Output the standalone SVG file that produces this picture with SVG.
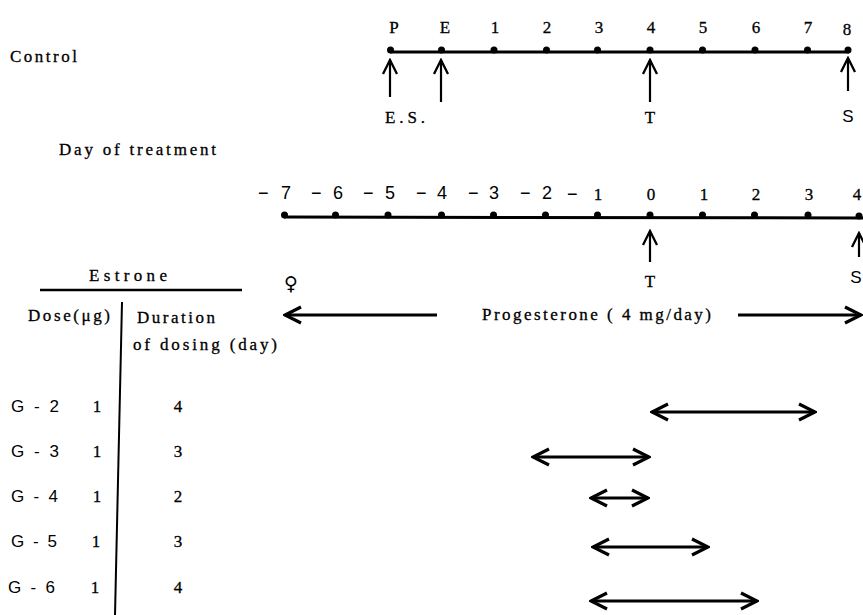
<svg xmlns="http://www.w3.org/2000/svg" width="863" height="615" viewBox="0 0 863 615">
<defs>
<style>
.t{font-family:"Liberation Serif","DejaVu Serif",serif;font-size:17px;fill:#000;stroke:#000;stroke-width:0.3}
.s{font-family:"Liberation Sans","DejaVu Sans",sans-serif;font-size:17px;fill:#000}
.n{font-family:"Liberation Sans","DejaVu Sans",sans-serif;font-size:18px;fill:#000}
.m{text-anchor:middle}
.axis{stroke:#000;stroke-width:3;fill:none}
.dot{fill:#000}
.up{stroke:#000;stroke-width:2.2;fill:none;marker-end:url(#hs)}
.dbl{stroke:#000;stroke-width:2.8;fill:none;marker-start:url(#hb);marker-end:url(#hb)}
.rule{stroke:#000;stroke-width:2.5;fill:none}
</style>
<marker id="hs" markerUnits="userSpaceOnUse" viewBox="-16 -10 18 20" markerWidth="18" markerHeight="20" refX="0" refY="0" orient="auto">
<path d="M-14,-7 L0,0 L-14,7" fill="none" stroke="#000" stroke-width="2.3"/>
</marker>
<marker id="hb" markerUnits="userSpaceOnUse" viewBox="-20 -10 22 20" markerWidth="22" markerHeight="20" refX="0" refY="0" orient="auto-start-reverse">
<path d="M-16,-8 L0,0 L-16,8" fill="none" stroke="#000" stroke-width="3.2" stroke-linejoin="miter"/>
</marker>
</defs>
<rect width="863" height="615" fill="#fff"/>

<g id="control">
<text class="t" x="10" y="62" textLength="67" lengthAdjust="spacing">Control</text>
<line class="axis" x1="390" y1="52" x2="849" y2="52"/>
<g class="dot">
<circle cx="390.5" cy="50" r="3.5"/><circle cx="441.5" cy="50" r="3.5"/><circle cx="494" cy="50" r="3.5"/><circle cx="546.5" cy="50" r="3.5"/><circle cx="597.5" cy="50" r="3.5"/><circle cx="650" cy="50" r="3.5"/><circle cx="702.5" cy="50" r="3.5"/><circle cx="755" cy="50" r="3.5"/><circle cx="807.5" cy="50" r="3.5"/><circle cx="848" cy="50" r="3.5"/>
</g>
<g class="t m">
<text x="394" y="33">P</text><text x="445" y="33">E</text><text x="495" y="33">1</text><text x="547" y="33">2</text><text x="599" y="33">3</text><text x="651" y="33">4</text><text x="703" y="33">5</text><text x="756" y="33">6</text><text x="808" y="33">7</text><text x="847" y="35">8</text>
</g>
<text class="t" x="385" y="123" textLength="40" lengthAdjust="spacing">E.S.</text>
<text class="t m" x="650" y="123">T</text>
<text class="s m" x="848" y="122">S</text>
</g>

<g id="treatment">
<text class="t" x="59" y="155" textLength="157" lengthAdjust="spacing">Day of treatment</text>
<line class="axis" x1="284" y1="217" x2="863" y2="218"/>
<g class="dot">
<circle cx="284.5" cy="215" r="3.5"/><circle cx="335.5" cy="215" r="3.5"/><circle cx="388" cy="215" r="3.5"/><circle cx="441.5" cy="215" r="3.5"/><circle cx="493.5" cy="215" r="3.5"/><circle cx="545.5" cy="215" r="3.5"/><circle cx="597.5" cy="215" r="3.5"/><circle cx="650" cy="215" r="3.5"/><circle cx="702.5" cy="215" r="3.5"/><circle cx="754.5" cy="215" r="3.5"/><circle cx="808" cy="215" r="3.5"/><circle cx="859" cy="216" r="3.5"/>
</g>
<g class="n">
<text x="258" y="199">−</text><text x="281" y="199">7</text>
<text x="311" y="199">−</text><text x="333" y="199">6</text>
<text x="363" y="199">−</text><text x="385" y="199">5</text>
<text x="416" y="199">−</text><text x="437" y="199">4</text>
<text x="468" y="199">−</text><text x="489" y="199">3</text>
<text x="520" y="199">−</text><text x="542" y="199">2</text>
<text x="567" y="200">−</text>
</g>
<g class="t m">
<text x="598" y="200">1</text><text x="651" y="200">0</text><text x="704" y="200">1</text><text x="756" y="200">2</text><text x="809" y="200">3</text><text x="857" y="200">4</text>
</g>
<text x="291" y="290" style="font-family:'DejaVu Sans',sans-serif;font-size:19px;text-anchor:middle">♀</text>
<text class="t m" x="650" y="287">T</text>
<text class="s m" x="856" y="283">S</text>
</g>

<g id="progesterone">
<text class="t" x="482" y="320" textLength="229" lengthAdjust="spacing">Progesterone ( 4 mg/day)</text>
</g>

<g id="table">
<text class="t" x="89" y="281" textLength="78" lengthAdjust="spacing">Estrone</text>
<line class="rule" x1="40" y1="290" x2="242" y2="290"/>
<text class="t" x="28" y="321" textLength="82" lengthAdjust="spacing">Dose(μg)</text>
<text class="t" x="137" y="323" textLength="78" lengthAdjust="spacing">Duration</text>
<text class="t" x="133" y="350" textLength="144" lengthAdjust="spacing">of dosing (day)</text>
<line x1="122" y1="302" x2="115" y2="615" stroke="#000" stroke-width="2"/>
</g>

<g id="g2"><text class="s" x="11" y="412" textLength="48" lengthAdjust="spacing">G - 2</text><text class="t m" x="97" y="412">1</text><text class="t m" x="178" y="412">4</text></g>
<g id="g3"><text class="s" x="11" y="457" textLength="48" lengthAdjust="spacing">G - 3</text><text class="t m" x="97" y="457">1</text><text class="t m" x="178" y="457">3</text></g>
<g id="g4"><text class="s" x="11" y="502" textLength="47" lengthAdjust="spacing">G - 4</text><text class="t m" x="97" y="502">1</text><text class="t m" x="178" y="502">2</text></g>
<g id="g5"><text class="s" x="11" y="547" textLength="46" lengthAdjust="spacing">G - 5</text><text class="t m" x="96" y="547">1</text><text class="t m" x="178" y="547">3</text></g>
<g id="g6"><text class="s" x="8" y="593" textLength="47" lengthAdjust="spacing">G - 6</text><text class="t m" x="95" y="593">1</text><text class="t m" x="178" y="593">4</text></g>

<g id="connectors">
<line class="up" x1="390" y1="97" x2="390" y2="60"/>
<line class="up" x1="441" y1="102" x2="441" y2="60"/>
<line class="up" x1="650" y1="102" x2="650" y2="60"/>
<line class="up" x1="848" y1="91" x2="848" y2="58"/>
<line class="up" x1="650" y1="262" x2="650" y2="231"/>
<line class="up" x1="859" y1="257" x2="859" y2="233"/>
<line stroke="#000" stroke-width="2.8" x1="437" y1="315" x2="285" y2="315" marker-end="url(#hb)"/>
<line stroke="#000" stroke-width="2.8" x1="738" y1="315" x2="861" y2="315" marker-end="url(#hb)"/>
<line class="dbl" x1="652" y1="412" x2="815" y2="412"/>
<line class="dbl" x1="533" y1="457" x2="649" y2="457"/>
<line class="dbl" x1="591" y1="498" x2="648" y2="498"/>
<line class="dbl" x1="593" y1="547" x2="708" y2="547"/>
<line class="dbl" x1="591" y1="601" x2="757" y2="601"/>
</g>
</svg>
